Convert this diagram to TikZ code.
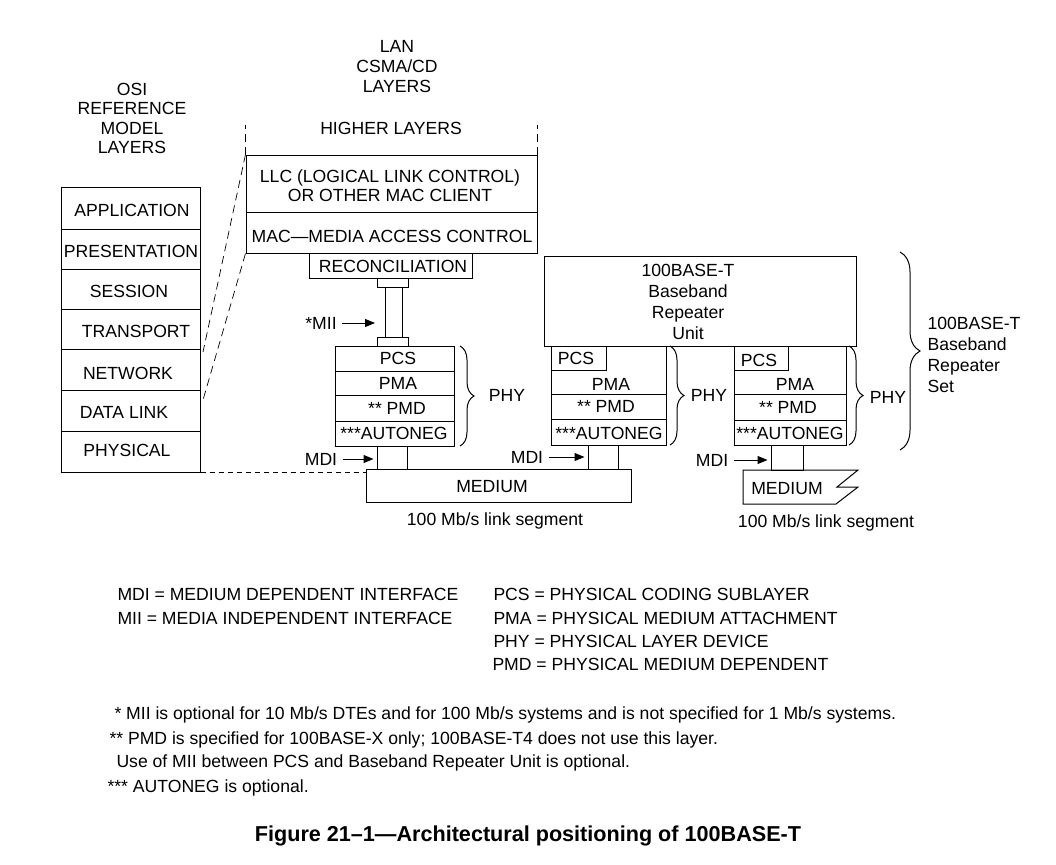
\documentclass[tikz,border=0pt]{standalone}
\usepackage{fontspec}
\setmainfont{Liberation Sans}
\usetikzlibrary{arrows.meta,decorations.pathreplacing,fit}
\begin{document}
\begin{tikzpicture}[x=1pt,y=-1pt,line width=1pt,
  font=\fontsize{17.6}{20}\selectfont,
  boxf/.style={draw, rectangle, inner sep=0pt},
  lbl/.style={inner sep=0pt, align=center},
  lft/.style={inner sep=0pt, anchor=west},
  arr/.style={-{Triangle[length=10pt,width=8pt]}},
  brc/.style={decorate, decoration={brace, amplitude=#1}},
  dshA/.style={dash pattern=on 8pt off 5pt, line width=0.7pt},
  dshB/.style={dash pattern=on 5pt off 4pt, line width=0.7pt}]
\useasboundingbox (0,0) rectangle (1056,864);

% ---- OSI column ----
\node[lbl, font=\fontsize{17.6}{19.3}\selectfont] (osilbl) at (132,118.5) {OSI\\REFERENCE\\MODEL\\LAYERS};
\node[boxf, fit={(61,187)(200,229)}] (app) {};
\node[boxf, fit={(61,229)(200,269)}] (pres) {};
\node[boxf, fit={(61,269)(200,309)}] (sess) {};
\node[boxf, fit={(61,309)(200,349)}] (trans) {};
\node[boxf, fit={(61,349)(200,390)}] (netw) {};
\node[boxf, fit={(61,390)(200,431)}] (dlink) {};
\node[boxf, fit={(61,431)(200,472)}] (phys) {};
\node[lbl] (tapp) at (132,210) {APPLICATION};
\node[lbl] (tpres) at (131,251) {PRESENTATION};
\node[lbl] (tsess) at (129,291) {SESSION};
\node[lbl] (ttrans) at (136,331) {TRANSPORT};
\node[lbl] (tnetw) at (128,373) {NETWORK};
\node[lbl] (tdlink) at (124,412) {DATA LINK};
\node[lbl] (tphys) at (127,450) {PHYSICAL};

% ---- LAN column ----
\node[lbl] (lanlbl) at (397,67) {LAN\\CSMA/CD\\LAYERS};
\node[lbl] (higher) at (391,128) {HIGHER LAYERS};
\node[boxf, fit={(246,155)(537,212)}] (llc) {};
\node[boxf, fit={(246,212)(537,253)}] (mac) {};
\node[boxf, fit={(309,253)(472,278)}] (recon) {};
\node[lbl, font=\fontsize{17.6}{19}\selectfont] (tllc) at (390,185.5) {LLC (LOGICAL LINK CONTROL)\\OR OTHER MAC CLIENT};
\node[lbl] (tmac) at (392,236) {MAC\textemdash MEDIA ACCESS CONTROL};
\node[lbl] (trecon) at (393,266) {RECONCILIATION};
\draw[dshA] (llc.north west) -- ++(0,-30);
\draw[dshA] (llc.north east) -- ++(0,-30);
\coordinate (slA) at (203,352);
\coordinate (slB) at (203,400);
\draw[dshA] (llc.north west) -- (slA);
\draw[dshA] (mac.south west) -- (slB);

% ---- MII pipe ----
\node[boxf, fit={(377,278)(408,287)}] (fl1) {};
\node[boxf, fit={(385,287)(402,337)}] (pipe) {};
\node[boxf, fit={(377,337)(408,346)}] (fl2) {};
\node[lbl] (mii) at (321,323) {*MII};
\coordinate (miitip) at (375,323);
\draw[arr, shorten <=5pt] (mii.east) -- (miitip);

% ---- PHY stack 1 ----
\node[boxf, fit={(335,346)(454,371)}] (pcs1) {};
\node[boxf, fit={(335,371)(454,395)}] (pma1) {};
\node[boxf, fit={(335,395)(454,421)}] (pmd1) {};
\node[boxf, fit={(335,421)(454,446)}] (an1) {};
\node[lbl] (tpcs1) at (398,358) {PCS};
\node[lbl] (tpma1) at (398,383) {PMA};
\node[lbl] (tpmd1) at (397,408) {** PMD};
\node[lbl] (tan1) at (394,433) {***AUTONEG};
\draw[brc=14pt] (460,346) -- (460,446);
\node[lbl] (phy1) at (507,395) {PHY};
\node[boxf, fit={(377,446)(407,469)}] (mdib1) {};
\node[lbl] (mdi1) at (321,459) {MDI};
\draw[arr, shorten <=5pt, shorten >=3pt] (mdi1.east) -- (mdi1.east -| mdib1.west);
\node[boxf, fit={(366,469)(631,502)}] (med1) {};
\node[lbl] (tmed1) at (492,487) {MEDIUM};
\node[lbl] (seg1) at (495,521) {100 Mb/s link segment};
\draw[dshB] (phys.south east) -- (phys.south east -| med1.west);

% ---- Repeater ----
\node[boxf, fit={(544,256)(856,346)}] (rep) {};
\node[lbl, font=\fontsize{17.6}{21}\selectfont] (trep) at (688,301.5) {100BASE-T\\Baseband\\Repeater\\Unit};

% ---- PHY stack 2 ----
\node[boxf, fit={(551,346)(666,394)}] (pma2) {};
\node[boxf, fit={(551,346)(606,370)}] (pcs2) {};
\node[boxf, fit={(551,394)(666,419)}] (pmd2) {};
\node[boxf, fit={(551,419)(666,445)}] (an2) {};
\node[lbl] (tpcs2) at (576,358) {PCS};
\node[lbl] (tpma2) at (611,384) {PMA};
\node[lbl] (tpmd2) at (606,406) {** PMD};
\node[lbl] (tan2) at (609,433) {***AUTONEG};
\draw[brc=14pt] (670,346) -- (670,445);
\node[lbl] (phy2) at (709,395) {PHY};
\node[boxf, fit={(588,445)(618,469)}] (mdib2) {};
\node[lbl] (mdi2) at (527,457) {MDI};
\draw[arr, shorten <=5pt, shorten >=3pt] (mdi2.east) -- (mdi2.east -| mdib2.west);

% ---- PHY stack 3 ----
\node[boxf, fit={(734,346)(846,394)}] (pma3) {};
\node[boxf, fit={(734,346)(788,370)}] (pcs3) {};
\node[boxf, fit={(734,394)(846,420)}] (pmd3) {};
\node[boxf, fit={(734,420)(846,445)}] (an3) {};
\node[lbl] (tpcs3) at (759,360) {PCS};
\node[lbl] (tpma3) at (795,384) {PMA};
\node[lbl] (tpmd3) at (788,407) {** PMD};
\node[lbl] (tan3) at (790,433) {***AUTONEG};
\draw[brc=14pt] (849,346) -- (849,445);
\node[lbl] (phy3) at (888,397) {PHY};
\node[boxf, fit={(771,445)(803,470)}] (mdib3) {};
\node[lbl] (mdi3) at (712,460) {MDI};
\draw[arr, shorten <=5pt, shorten >=3pt] (mdi3.east) -- (mdi3.east -| mdib3.west);
\draw (743,470) -- (858,470) -- (837,487) -- (858,487) -- (836,504) -- (743,504) -- cycle;
\node[lbl] (tmed2) at (787,489) {MEDIUM};
\node[lbl] (seg2) at (826,523) {100 Mb/s link segment};

% ---- Repeater set ----
\draw[brc=20pt] (900,252) -- (900,450);
\node[lft, align=left, font=\fontsize{17.6}{21}\selectfont] (repset) at (927,354.5) {100BASE-T\\Baseband\\Repeater\\Set};

% ---- Legend ----
\node[lft] (lg1) at (117,594) {MDI = MEDIUM DEPENDENT INTERFACE};
\node[lft] (lg2) at (117,618) {MII = MEDIA INDEPENDENT INTERFACE};
\node[lft] (lg3) at (493,594) {PCS = PHYSICAL CODING SUBLAYER};
\node[lft] (lg4) at (493,618) {PMA = PHYSICAL MEDIUM ATTACHMENT};
\node[lft] (lg5) at (493,641) {PHY = PHYSICAL LAYER DEVICE};
\node[lft] (lg6) at (492,664) {PMD = PHYSICAL MEDIUM DEPENDENT};

% ---- Footnotes ----
\node[lft] (fn1) at (114,715) {* MII is optional for 10 Mb/s DTEs and for 100 Mb/s systems and is not specified for 1 Mb/s systems.};
\node[lft] (fn2) at (109,740) {** PMD is specified for 100BASE-X only; 100BASE-T4 does not use this layer.};
\node[lft] (fn3) at (116,763) {Use of MII between PCS and Baseband Repeater Unit is optional.};
\node[lft] (fn4) at (107,788) {*** AUTONEG is optional.};

% ---- Caption ----
\node[lbl, font=\fontsize{21.6}{24}\selectfont\bfseries] (cap) at (528,836) {Figure 21\textendash 1\textemdash Architectural positioning of 100BASE-T};
\end{tikzpicture}
\end{document}
